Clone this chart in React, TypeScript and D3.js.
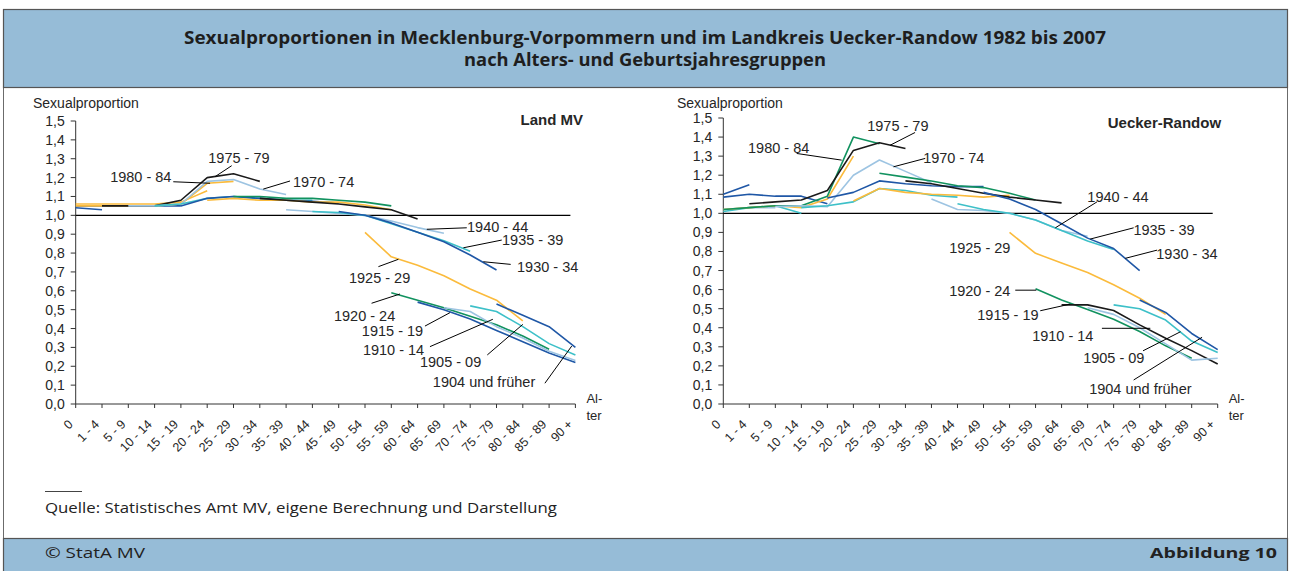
import React from "react";
import * as d3 from "d3";

const ageGroups = ["0", "1 - 4", "5 - 9", "10 - 14", "15 - 19", "20 - 24", "25 - 29", "30 - 34", "35 - 39", "40 - 44", "45 - 49", "50 - 54", "55 - 59", "60 - 64", "65 - 69", "70 - 74", "75 - 79", "80 - 84", "85 - 89", "90 +"];
const yTickValues = [0, 0.1, 0.2, 0.3, 0.4, 0.5, 0.6, 0.7, 0.8, 0.9, 1.0, 1.1, 1.2, 1.3, 1.4, 1.5];

const palette: Record<string, string> = {
  db: "#1F57A6",
  c: "#3DC0C8",
  lb: "#9DC4E2",
  k: "#1A1A1A",
  g: "#11925F",
  o: "#FBBB3C",
};

type Series = { cohort: string; start: number; values: number[]; color: string };

// Land MV (start = index of first age group)
const landMV: Series[] = [
  { cohort: "2005 - 07", start: 0, values: [1.04, 1.03], color: "db" },
  { cohort: "1990 - 94", start: 0, values: [1.05, 1.05, 1.05, 1.05, 1.05], color: "db" },
  { cohort: "1985 - 89", start: 0, values: [1.06, 1.06, 1.06, 1.06, 1.07, 1.13], color: "o" },
  { cohort: "1980 - 84", start: 0, values: [1.05, 1.05, 1.05, 1.05, 1.06, 1.17, 1.18], color: "o" },
  { cohort: "1975 - 79", start: 1, values: [1.05, 1.05, 1.05, 1.08, 1.2, 1.22, 1.18], color: "k" },
  { cohort: "1970 - 74", start: 2, values: [1.05, 1.05, 1.06, 1.18, 1.19, 1.14, 1.11], color: "lb" },
  { cohort: "1965 - 69", start: 3, values: [1.05, 1.06, 1.09, 1.1, 1.09, 1.08, 1.08], color: "c" },
  { cohort: "1960 - 64", start: 4, values: [1.05, 1.09, 1.1, 1.09, 1.08, 1.075, 1.065], color: "db" },
  { cohort: "1955 - 59", start: 5, values: [1.08, 1.09, 1.08, 1.08, 1.07, 1.07, 1.055, 1.03], color: "o" },
  { cohort: "1950 - 54", start: 6, values: [1.1, 1.1, 1.09, 1.09, 1.08, 1.07, 1.05], color: "g" },
  { cohort: "1945 - 49", start: 7, values: [1.09, 1.08, 1.07, 1.06, 1.045, 1.03, 0.98], color: "k" },
  { cohort: "1940 - 44", start: 8, values: [1.03, 1.02, 1.01, 1.0, 0.97, 0.935, 0.905], color: "lb" },
  { cohort: "1935 - 39", start: 9, values: [1.02, 1.015, 1.0, 0.955, 0.91, 0.865, 0.81], color: "c" },
  { cohort: "1930 - 34", start: 10, values: [1.02, 1.0, 0.96, 0.91, 0.86, 0.79, 0.71], color: "db" },
  { cohort: "1925 - 29", start: 11, values: [0.91, 0.78, 0.735, 0.68, 0.61, 0.55, 0.44], color: "o" },
  { cohort: "1920 - 24", start: 12, values: [0.59, 0.55, 0.51, 0.465, 0.42, 0.36, 0.29], color: "g" },
  { cohort: "1915 - 19", start: 13, values: [0.54, 0.5, 0.45, 0.39, 0.33, 0.27, 0.22], color: "db" },
  { cohort: "1910 - 14", start: 14, values: [0.51, 0.49, 0.41, 0.35, 0.28, 0.23], color: "lb" },
  { cohort: "1905 - 09", start: 15, values: [0.52, 0.49, 0.41, 0.32, 0.26], color: "c" },
  { cohort: "1904 und früher", start: 16, values: [0.53, 0.47, 0.41, 0.3], color: "db" },
];

// Landkreis Uecker-Randow
const ueckerRandow: Series[] = [
  { cohort: "2005 - 07", start: 0, values: [1.1, 1.15], color: "db" },
  { cohort: "2000 - 04", start: 0, values: [1.02, 1.03, 1.03], color: "lb" },
  { cohort: "1995 - 99", start: 0, values: [1.01, 1.03, 1.04, 1.0], color: "c" },
  { cohort: "1990 - 94", start: 0, values: [1.085, 1.1, 1.09, 1.09, 1.05], color: "db" },
  { cohort: "1985 - 89", start: 0, values: [1.02, 1.03, 1.04, 1.03, 1.075, 1.3], color: "o" },
  { cohort: "1980 - 84", start: 0, values: [1.02, 1.03, 1.04, 1.04, 1.09, 1.4, 1.365], color: "g" },
  { cohort: "1975 - 79", start: 1, values: [1.05, 1.06, 1.07, 1.12, 1.33, 1.37, 1.34], color: "k" },
  { cohort: "1970 - 74", start: 2, values: [1.035, 1.04, 1.035, 1.2, 1.28, 1.22, 1.16], color: "lb" },
  { cohort: "1965 - 69", start: 3, values: [1.03, 1.04, 1.06, 1.13, 1.12, 1.095, 1.085], color: "c" },
  { cohort: "1960 - 64", start: 4, values: [1.08, 1.11, 1.17, 1.155, 1.145, 1.14, 1.14], color: "db" },
  { cohort: "1955 - 59", start: 5, values: [1.065, 1.13, 1.11, 1.1, 1.095, 1.085, 1.095], color: "o" },
  { cohort: "1950 - 54", start: 6, values: [1.21, 1.19, 1.17, 1.145, 1.135, 1.105, 1.07], color: "g" },
  { cohort: "1945 - 49", start: 7, values: [1.17, 1.155, 1.13, 1.105, 1.085, 1.07, 1.055], color: "k" },
  { cohort: "1940 - 44", start: 8, values: [1.075, 1.02, 1.015, 1.0, 0.965, 0.91, 0.88], color: "lb" },
  { cohort: "1935 - 39", start: 9, values: [1.05, 1.02, 1.0, 0.965, 0.91, 0.855, 0.81], color: "c" },
  { cohort: "1930 - 34", start: 10, values: [1.11, 1.075, 1.02, 0.945, 0.87, 0.815, 0.7], color: "db" },
  { cohort: "1925 - 29", start: 11, values: [0.9, 0.79, 0.74, 0.69, 0.625, 0.555, 0.47], color: "o" },
  { cohort: "1920 - 24", start: 12, values: [0.605, 0.545, 0.495, 0.445, 0.38, 0.305, 0.24], color: "g" },
  { cohort: "1915 - 19", start: 13, values: [0.52, 0.52, 0.49, 0.415, 0.345, 0.28, 0.21], color: "k" },
  { cohort: "1910 - 14", start: 14, values: [0.505, 0.47, 0.4, 0.315, 0.23, 0.24], color: "lb" },
  { cohort: "1905 - 09", start: 15, values: [0.52, 0.5, 0.44, 0.33, 0.27], color: "c" },
  { cohort: "1904 und früher", start: 16, values: [0.545, 0.48, 0.37, 0.285], color: "db" },
];

type Label = { text: string; at: [number, number]; leader?: [[number, number], [number, number]] };

// label positions in data coordinates (age-group index, proportion)
const landLabels: Label[] = [
  { text: "1975 - 79", at: [5.04, 1.277], leader: [[5.93, 1.263], [5.3, 1.205]] },
  { text: "1980 - 84", at: [1.31, 1.176], leader: [[3.71, 1.178], [5.11, 1.17]] },
  { text: "1970 - 74", at: [8.26, 1.15], leader: [[8.15, 1.182], [7.13, 1.139]] },
  { text: "1940 - 44", at: [14.88, 0.911], leader: [[14.87, 0.934], [13.35, 0.926]] },
  { text: "1935 - 39", at: [16.21, 0.843], leader: [[16.2, 0.869], [14.74, 0.828]] },
  { text: "1930 - 34", at: [16.78, 0.7], leader: [[16.54, 0.74], [15.5, 0.754]] },
  { text: "1925 - 29", at: [10.39, 0.641], leader: [[11.51, 0.728], [12.27, 0.767]] },
  { text: "1920 - 24", at: [9.82, 0.44], leader: [[11.25, 0.534], [12.33, 0.583]] },
  { text: "1915 - 19", at: [10.88, 0.36], leader: [[13.28, 0.413], [14.23, 0.484]] },
  { text: "1910 - 14", at: [10.92, 0.26], leader: [[13.47, 0.304], [15.86, 0.449]] },
  { text: "1905 - 09", at: [13.09, 0.196], leader: [[15.65, 0.26], [17.0, 0.422]] },
  { text: "1904 und früher", at: [13.58, 0.09], leader: [[17.84, 0.11], [18.86, 0.307]] },
];

const ueckerLabels: Label[] = [
  { text: "1975 - 79", at: [5.53, 1.431], leader: [[7.37, 1.424], [6.41, 1.357]] },
  { text: "1980 - 84", at: [0.95, 1.315], leader: [[2.82, 1.314], [4.55, 1.279]] },
  { text: "1970 - 74", at: [7.68, 1.263], leader: [[7.76, 1.288], [6.54, 1.244]] },
  { text: "1940 - 44", at: [13.99, 1.059], leader: [[14.36, 1.06], [12.76, 0.924]] },
  { text: "1935 - 39", at: [15.76, 0.886], leader: [[15.77, 0.924], [14.1, 0.865]] },
  { text: "1930 - 34", at: [16.64, 0.76], leader: [[16.67, 0.807], [15.45, 0.764]] },
  { text: "1925 - 29", at: [8.68, 0.791] },
  { text: "1920 - 24", at: [8.68, 0.566], leader: [[11.22, 0.597], [12.03, 0.597]] },
  { text: "1915 - 19", at: [9.76, 0.44], leader: [[12.18, 0.489], [13.33, 0.524]] },
  { text: "1910 - 14", at: [11.87, 0.33], leader: [[14.55, 0.397], [16.41, 0.397]] },
  { text: "1905 - 09", at: [13.83, 0.215], leader: [[16.13, 0.279], [17.57, 0.379]] },
  { text: "1904 und früher", at: [14.06, 0.052], leader: [[15.77, 0.126], [18.4, 0.35]] },
];

const titleLines = [
  "Sexualproportionen in Mecklenburg-Vorpommern und im Landkreis Uecker-Randow 1982 bis 2007",
  "nach Alters- und Geburtsjahresgruppen",
];
const yAxisTitle = "Sexualproportion";
const xAxisTitle = ["Al-", "ter"];
const sourceText = "Quelle: Statistisches Amt MV, eigene Berechnung und Darstellung";
const copyrightText = "© StatA MV";
const figureText = "Abbildung 10";

const FONT = "'Liberation Sans', Arial, Helvetica, sans-serif";
const TITLE_FONT = "'Open Sans', 'Noto Sans', sans-serif";
const TEXT = "#262626";

type Geom = { left: number; right: number; top: number; bottom: number; titleX: number };

function Panel({ series, labels, name, nameAt, geom }: { series: Series[]; labels: Label[]; name: string; nameAt: [number, number]; geom: Geom }) {
  const x = d3.scaleLinear().domain([0, ageGroups.length - 1]).range([geom.left, geom.right]);
  const y = d3.scaleLinear().domain([0, 1.5]).range([geom.bottom, geom.top]);
  const line = d3
    .line<[number, number]>()
    .x((d) => x(d[0]))
    .y((d) => y(d[1]));
  const fmt = (v: number) => v.toFixed(1).replace(".", ",");
  return (
    <g>
      <text x={geom.titleX} y={108} fontFamily={FONT} fontSize={14} fill={TEXT}>
        {yAxisTitle}
      </text>
      {yTickValues.map((v) => (
        <g key={v}>
          <line x1={geom.left - 5} x2={geom.left} y1={y(v)} y2={y(v)} stroke="#333" strokeWidth={1} />
          <text x={geom.left - 11} y={y(v) + 5} textAnchor="end" fontFamily={FONT} fontSize={14} fill={TEXT}>
            {fmt(v)}
          </text>
        </g>
      ))}
      <line x1={geom.left} x2={geom.left} y1={y(1.5)} y2={y(0)} stroke="#333" strokeWidth={1} />
      <line x1={geom.left} x2={geom.right} y1={y(0)} y2={y(0)} stroke="#333" strokeWidth={1} />
      {ageGroups.map((a, i) => (
        <g key={a}>
          <line x1={x(i)} x2={x(i)} y1={y(0)} y2={y(0) + 4} stroke="#333" strokeWidth={1} />
          <text
            transform={`translate(${x(i) - 2},${y(0) + 21}) rotate(-45)`}
            textAnchor="end"
            fontFamily={FONT}
            fontSize={12.5}
            fill={TEXT}
          >
            {a}
          </text>
        </g>
      ))}
      <text x={geom.right + 11} y={y(0) - 1} fontFamily={FONT} fontSize={13} fill={TEXT}>
        {xAxisTitle[0]}
      </text>
      <text x={geom.right + 11} y={y(0) + 16} fontFamily={FONT} fontSize={13} fill={TEXT}>
        {xAxisTitle[1]}
      </text>
      <line x1={geom.left} x2={geom.right - 5} y1={y(1)} y2={y(1)} stroke="#000" strokeWidth={1.2} />
      {series.map((s) => (
        <path
          key={s.cohort}
          d={line(s.values.map((v, i) => [s.start + i, v] as [number, number])) || ""}
          fill="none"
          stroke={palette[s.color]}
          strokeWidth={1.6}
          strokeLinejoin="round"
        />
      ))}
      {labels.map((l) =>
        l.leader ? (
          <line
            key={"ld" + l.text}
            x1={x(l.leader[0][0])}
            y1={y(l.leader[0][1])}
            x2={x(l.leader[1][0])}
            y2={y(l.leader[1][1])}
            stroke="#000"
            strokeWidth={1}
          />
        ) : null
      )}
      {labels.map((l) => (
        <text key={"lt" + l.text} x={x(l.at[0])} y={y(l.at[1])} fontFamily={FONT} fontSize={14.5} fill={TEXT}>
          {l.text}
        </text>
      ))}
      <text x={x(nameAt[0])} y={y(nameAt[1])} textAnchor="end" fontFamily={FONT} fontSize={15} fontWeight="bold" fill={TEXT}>
        {name}
      </text>
    </g>
  );
}

export default function App() {
  const W = 1291;
  const H = 571;
  return (
    <div style={{ position: "absolute", left: 0, top: 0 }}>
      <svg width={W} height={H} viewBox={`0 0 ${W} ${H}`} style={{ display: "block", background: "#fff" }}>
        <rect x={3.5} y={9.5} width={1284} height={575} fill="#fff" stroke="#6b6b6b" strokeWidth={1} />
        <rect x={3.5} y={9.5} width={1284} height={78} fill="#96BCD7" stroke="#555" strokeWidth={1.2} />
        <text x={645} y={44} textAnchor="middle" fontFamily={TITLE_FONT} fontWeight="bold" fontSize={17} fill="#1e1e1e" textLength={922} lengthAdjust="spacingAndGlyphs">
          {titleLines[0]}
        </text>
        <text x={645} y={66} textAnchor="middle" fontFamily={TITLE_FONT} fontWeight="bold" fontSize={17} fill="#1e1e1e" textLength={362} lengthAdjust="spacingAndGlyphs">
          {titleLines[1]}
        </text>
        <Panel series={landMV} labels={landLabels} name="Land MV" nameAt={[19.29, 1.478]} geom={{ left: 75.7, right: 575.4, top: 121, bottom: 404, titleX: 33 }} />
        <Panel series={ueckerRandow} labels={ueckerLabels} name="Uecker-Randow" nameAt={[19.13, 1.447]} geom={{ left: 723.3, right: 1217.7, top: 118, bottom: 404, titleX: 677 }} />
        <line x1={45} x2={82} y1={491.5} y2={491.5} stroke="#444" strokeWidth={1} />
        <text x={45} y={513} fontFamily={TITLE_FONT} fontSize={15} fill="#222" textLength={512} lengthAdjust="spacingAndGlyphs">
          {sourceText}
        </text>
        <rect x={3.5} y={538.5} width={1284} height={40} fill="#96BCD7" stroke="#555" strokeWidth={1.2} />
        <text x={45} y={558} fontFamily={TITLE_FONT} fontSize={15} fill="#222" textLength={100} lengthAdjust="spacingAndGlyphs">
          {copyrightText}
        </text>
        <text x={1277} y={558} textAnchor="end" fontFamily={TITLE_FONT} fontWeight="bold" fontSize={15} fill="#222" textLength={127} lengthAdjust="spacingAndGlyphs">
          {figureText}
        </text>
      </svg>
    </div>
  );
}
